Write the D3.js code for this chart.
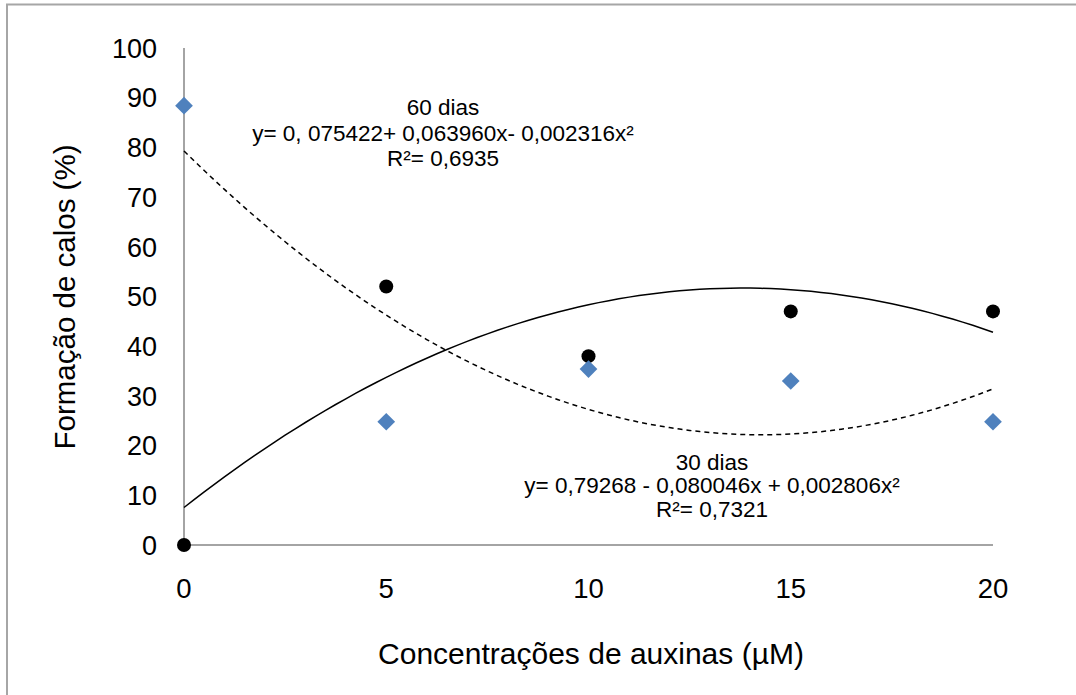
<!DOCTYPE html>
<html>
<head>
<meta charset="utf-8">
<script src="https://cdn.jsdelivr.net/npm/d3@7"></script>
<style>
  body { margin: 0; background: #fff; }
  svg { display: block; font-family: "Liberation Sans", Arial, sans-serif; }
</style>
</head>
<body>
<svg id="chart" width="1076" height="695"></svg>
<script>
// concentrations of auxin (µM)
const concentrations = [0, 5, 10, 15, 20];
// callus formation (%)
const dias60 = [0, 52, 38, 47, 47];
const dias30 = [88.4, 24.8, 35.4, 33, 24.8];
// polynomial trend coefficients as printed on the chart (fraction, c0 + c1 x + c2 x²)
const coef60 = [0.075422, 0.063960, -0.002316];
const coef30 = [0.79268, -0.080046, 0.002806];
const yTicks = [0, 10, 20, 30, 40, 50, 60, 70, 80, 90, 100];
const xTicks = [0, 5, 10, 15, 20];

const svg = d3.select('#chart');

var x = d3.scaleLinear().domain([0, 20]).range([184, 993]);
var y = d3.scaleLinear().domain([0, 100]).range([545, 48]);

// outer frame
svg.append('path')
  .attr('d', 'M7,695 V4.5 H1076')
  .attr('fill', 'none')
  .attr('stroke', '#a6a6a6')
  .attr('stroke-width', 2);

// axes
svg.append('line')
  .attr('x1', x(0)).attr('x2', x(0))
  .attr('y1', y(100)).attr('y2', y(0))
  .attr('stroke', '#868686').attr('stroke-width', 1.5);
svg.append('line')
  .attr('x1', x(0)).attr('x2', x(20))
  .attr('y1', y(0)).attr('y2', y(0))
  .attr('stroke', '#868686').attr('stroke-width', 1.5);

svg.selectAll('.ytick')
  .data(yTicks)
  .enter().append('text')
  .attr('class', 'ytick')
  .attr('x', 157)
  .attr('y', d => y(d))
  .attr('dy', '0.36em')
  .attr('text-anchor', 'end')
  .attr('font-size', 27)
  .attr('fill', '#000')
  .text(d => d);

svg.selectAll('.xtick')
  .data(xTicks)
  .enter().append('text')
  .attr('class', 'xtick')
  .attr('x', d => x(d))
  .attr('y', 598)
  .attr('text-anchor', 'middle')
  .attr('font-size', 27.5)
  .attr('fill', '#000')
  .text(d => d);

svg.append('text')
  .attr('x', 591).attr('y', 664)
  .attr('text-anchor', 'middle')
  .attr('font-size', 30)
  .text('Concentrações de auxinas (µM)');

svg.append('text')
  .attr('transform', 'translate(75,297) rotate(-90)')
  .attr('text-anchor', 'middle')
  .attr('font-size', 29.5)
  .text('Formação de calos (%)');

// trend lines
function poly(c) {
  return function(t) { return 100 * (c[0] + c[1] * t + c[2] * t * t); };
}
var samples = d3.range(0, 20.01, 0.25);
var line = d3.line()
  .x(d => x(d[0]))
  .y(d => y(d[1]));

var f60 = poly(coef60), f30 = poly(coef30);
svg.append('path')
  .datum(samples.map(t => [t, f60(t)]))
  .attr('fill', 'none')
  .attr('stroke', '#000')
  .attr('stroke-width', 1.5)
  .attr('d', line);
svg.append('path')
  .datum(samples.map(t => [t, f30(t)]))
  .attr('fill', 'none')
  .attr('stroke', '#000')
  .attr('stroke-width', 1.5)
  .attr('stroke-dasharray', '5,4')
  .attr('d', line);

// markers
svg.selectAll('.dot60')
  .data(concentrations)
  .enter().append('circle')
  .attr('class', 'dot60')
  .attr('cx', d => x(d))
  .attr('cy', (d, i) => y(dias60[i]))
  .attr('r', 7)
  .attr('fill', '#000');

var diamond = d3.symbol().type(d3.symbolDiamond2).size(200);
svg.selectAll('.dot30')
  .data(concentrations)
  .enter().append('path')
  .attr('class', 'dot30')
  .attr('transform', (d, i) => 'translate(' + x(d) + ',' + y(dias30[i]) + ')')
  .attr('d', diamond)
  .attr('fill', '#4f81bd');

// equation labels
var lab60 = svg.append('g').attr('font-size', 22.5).attr('fill', '#000').attr('text-anchor', 'middle');
lab60.append('text').attr('x', 443).attr('y', 115).text('60 dias');
lab60.append('text').attr('x', 443).attr('y', 141).text('y= 0, 075422+ 0,063960x- 0,002316x²');
lab60.append('text').attr('x', 443).attr('y', 166).text('R²= 0,6935');

var lab30 = svg.append('g').attr('font-size', 22.5).attr('fill', '#000').attr('text-anchor', 'middle');
lab30.append('text').attr('x', 712).attr('y', 470).text('30 dias');
lab30.append('text').attr('x', 712).attr('y', 493).text('y= 0,79268 - 0,080046x + 0,002806x²');
lab30.append('text').attr('x', 712).attr('y', 517).text('R²= 0,7321');
</script>
</body>
</html>
